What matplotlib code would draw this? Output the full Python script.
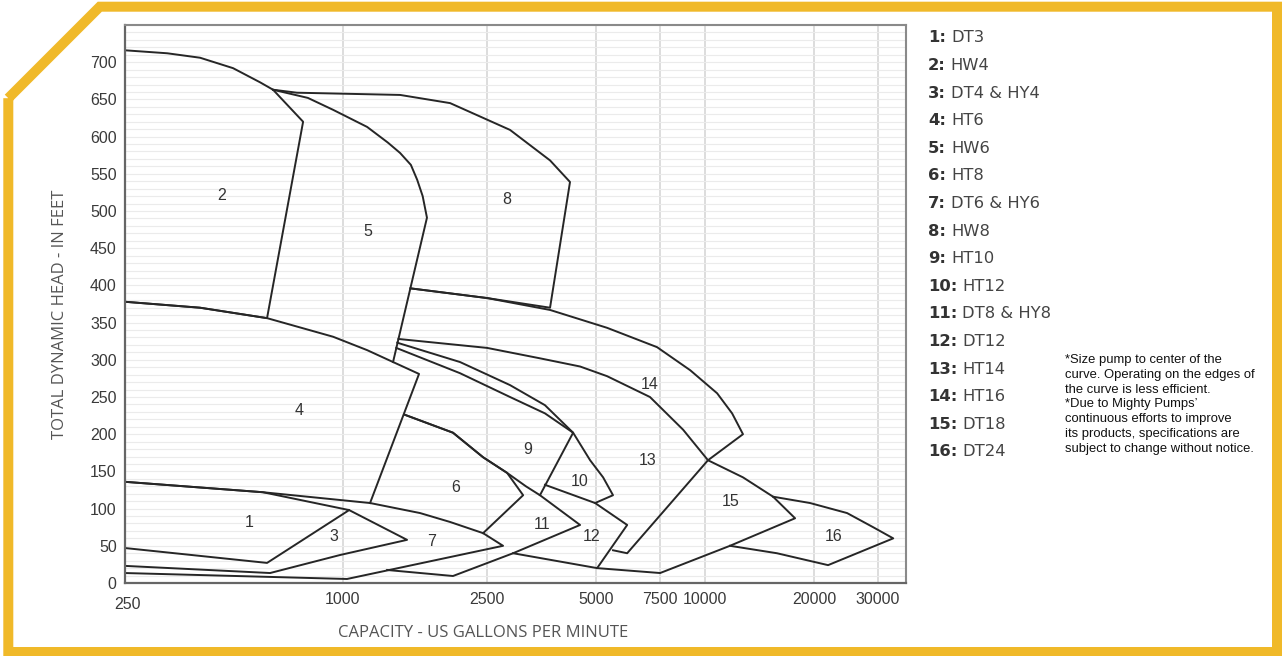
import matplotlib
matplotlib.use("Agg")
import matplotlib.pyplot as plt
from matplotlib.lines import Line2D
from matplotlib.ticker import MultipleLocator, NullLocator
from matplotlib.transforms import ScaledTranslation

# pump coverage outlines: flow in US gpm, head in feet
r1_q = [250, 601, 1040, 617, 250]
r1_h = [136, 122, 98, 27, 47]
r2_q = [250, 327, 403, 497, 590, 641, 776, 617, 403, 250]
r2_h = [716, 712, 706, 692, 673, 663, 620, 356, 370, 378]
r3_q = [1040, 1503, 981, 629, 250]
r3_h = [98, 58, 37.6, 13.4, 23]
r4_q = [250, 403, 617, 939, 1166, 1375, 1622, 1188]
r4_h = [378, 370, 356, 331, 313, 297, 281, 107.5]
r5_q = [641, 800, 939, 1166, 1330, 1438, 1540, 1603, 1660, 1706, 1375]
r5_h = [663, 652, 636, 613, 592, 578, 562, 542, 520, 491, 297]
r6_q = [1484, 2013, 2438, 2840, 3145, 2438]
r6_h = [226, 202, 169, 148, 118, 67]
r7_q = [250, 601, 1188, 1633, 1977, 2438, 2768, 1026, 250]
r7_h = [136, 122, 107.5, 94, 82, 67, 50, 5.4, 13.4]
r8_q = [641, 746, 1438, 1977, 2893, 3732, 4237, 3732, 2500, 1537]
r8_h = [663, 659, 656, 645, 609, 568, 539, 370, 383, 396]
r9_q = [1403, 2105, 2893, 3613, 4322, 3500, 3200, 2840, 2438, 2013, 1484]
r9_h = [316, 282, 250, 228, 202, 118, 130, 148, 169, 202, 226]
r10_q = [1412, 2105, 2893, 3613, 4322, 4815, 5230, 5570, 4970, 3613]
r10_h = [323, 297, 266, 239, 202, 165, 142, 118, 107.5, 132]
r11_q = [3500, 4517, 2950, 2013, 1324]
r11_h = [118, 78, 40, 9.4, 17.5]
r12_q = [4970, 6095, 5035, 2950]
r12_h = [107.5, 78, 20, 40]
r13_q = [10190, 6095, 5570]
r13_h = [165, 40, 44]
r14_q = [1537, 2500, 3732, 5363, 7370, 9100, 10800, 11880, 12730, 10190,
         8700, 7045, 5363, 4517, 3500, 2500, 1423]
r14_h = [396, 383, 367, 343, 317, 286, 255, 228, 200, 165,
         206, 250, 278, 291, 302, 316, 328]
r15_q = [10190, 12730, 15415, 17730, 11720, 7515, 5035]
r15_h = [165, 142, 116, 87, 50, 13.4, 20]
r16_q = [15415, 19500, 24680, 29130, 33100, 21870, 15800, 11720]
r16_h = [116, 107.5, 94, 75, 60, 24, 40, 50]

pump_names = ["DT3", "HW4", "DT4 & HY4", "HT6", "HW6", "HT8", "DT6 & HY6", "HW8",
              "HT10", "HT12", "DT8 & HY8", "DT12", "HT14", "HT16", "DT18", "DT24"]
label_q = [550, 463, 945, 756, 1172, 2052, 1762, 2840,
           3245, 4517, 3548, 4875, 6963, 7045, 11800, 22700]
label_h = [81, 521, 62, 232, 472, 129, 56, 516,
           179, 136, 78, 62, 165, 267, 110, 63]

x_ticks = [250, 1000, 2500, 5000, 7500, 10000, 20000, 30000]
y_ticks = list(range(0, 701, 50))

notes = [
    "*Size pump to center of the",
    "curve. Operating on the edges of",
    "the curve is less efficient.",
    "*Due to Mighty Pumps\u2019",
    "continuous efforts to improve",
    "its products, specifications are",
    "subject to change without notice.",
]

W, H = 1282, 656
fig = plt.figure(figsize=(W / 100, H / 100), dpi=100)
fig.patch.set_facecolor("white")

ax = fig.add_axes([125 / W, 1 - 583 / H, (906 - 125) / W, (583 - 25) / H])
ax.set_xscale("log")
ax.set_xlim(250, 35900)
ax.set_ylim(0, 750)

ax.set_xticks(x_ticks)
ax.set_xticklabels([str(v) for v in x_ticks])
ax.xaxis.set_minor_locator(NullLocator())
ax.set_yticks(y_ticks)
ax.yaxis.set_minor_locator(MultipleLocator(10))
ax.tick_params(which="both", length=0)
ax.tick_params(axis="x", pad=6.5)
ax.tick_params(axis="y", pad=6)
for lbl in ax.get_xticklabels() + ax.get_yticklabels():
    lbl.set_family("Liberation Sans")
    lbl.set_fontsize(11.5)
    lbl.set_color("#3a3a3a")
# "250" sits a little lower than the other flow labels
first = ax.get_xticklabels()[0]
first.set_transform(first.get_transform() + ScaledTranslation(3 / 100, -5 / 100, fig.dpi_scale_trans))

ax.set_axisbelow(True)
ax.grid(True, which="both", axis="y", color="#ebebeb", lw=0.8)
ax.grid(True, which="major", axis="x", color="#dadada", lw=1.3)
for side in ["left", "bottom"]:
    ax.spines[side].set_color("#666666")
    ax.spines[side].set_linewidth(1.6)
for side in ["top", "right"]:
    ax.spines[side].set_color("#8a8a8a")
    ax.spines[side].set_linewidth(1.5)

regions = [(r1_q, r1_h), (r2_q, r2_h), (r3_q, r3_h), (r4_q, r4_h),
           (r5_q, r5_h), (r6_q, r6_h), (r7_q, r7_h), (r8_q, r8_h),
           (r9_q, r9_h), (r10_q, r10_h), (r11_q, r11_h), (r12_q, r12_h),
           (r13_q, r13_h), (r14_q, r14_h), (r15_q, r15_h), (r16_q, r16_h)]
for q, h in regions:
    ax.plot(q, h, color="#262626", lw=1.4, solid_joinstyle="round")

for i, (q, h) in enumerate(zip(label_q, label_h)):
    ax.text(q, h, str(i + 1), ha="center", va="center", fontsize=11.5,
            family="Liberation Sans", color="#333333")

fig.text(60 / W, 1 - 314 / H, "TOTAL DYNAMIC HEAD - IN FEET", rotation=90,
         ha="center", va="center", family="Open Sans", fontsize=12, color="#555555")
fig.text(483 / W, 1 - 633 / H, "CAPACITY - US GALLONS PER MINUTE",
         ha="center", va="center", family="Open Sans", fontsize=12, color="#555555")

# legend on the right: bold number then model name
renderer = fig.canvas.get_renderer()
for i, name in enumerate(pump_names):
    y = 1 - (38 + i * 27.6) / H
    t = fig.text(928 / W, y, f"{i + 1}:", ha="left", va="center", family="DejaVu Sans",
                 fontsize=11.8, weight="bold", color="#333333")
    bb = t.get_window_extent(renderer)
    fig.text((bb.x1 + 5) / W, y, name, ha="left", va="center", family="DejaVu Sans",
             fontsize=11.8, color="#444444")

for k, line in enumerate(notes):
    fig.text(1065 / W, 1 - (360 + k * 14.8) / H, line, ha="left", va="center",
             family="Liberation Sans", fontsize=9.4, color="#111111")

# yellow frame with the clipped top-left corner
fx = [8.3, 99.8, 1277, 1277, 8.3, 8.3]
fy = [98.2, 6.7, 6.7, 652, 652, 98.2]
fig.add_artist(Line2D([v / W for v in fx], [1 - v / H for v in fy],
                      transform=fig.transFigure, color="#F0B929", lw=7.2,
                      solid_joinstyle="miter", solid_capstyle="butt"))

fig.savefig("out.png", dpi=100)
